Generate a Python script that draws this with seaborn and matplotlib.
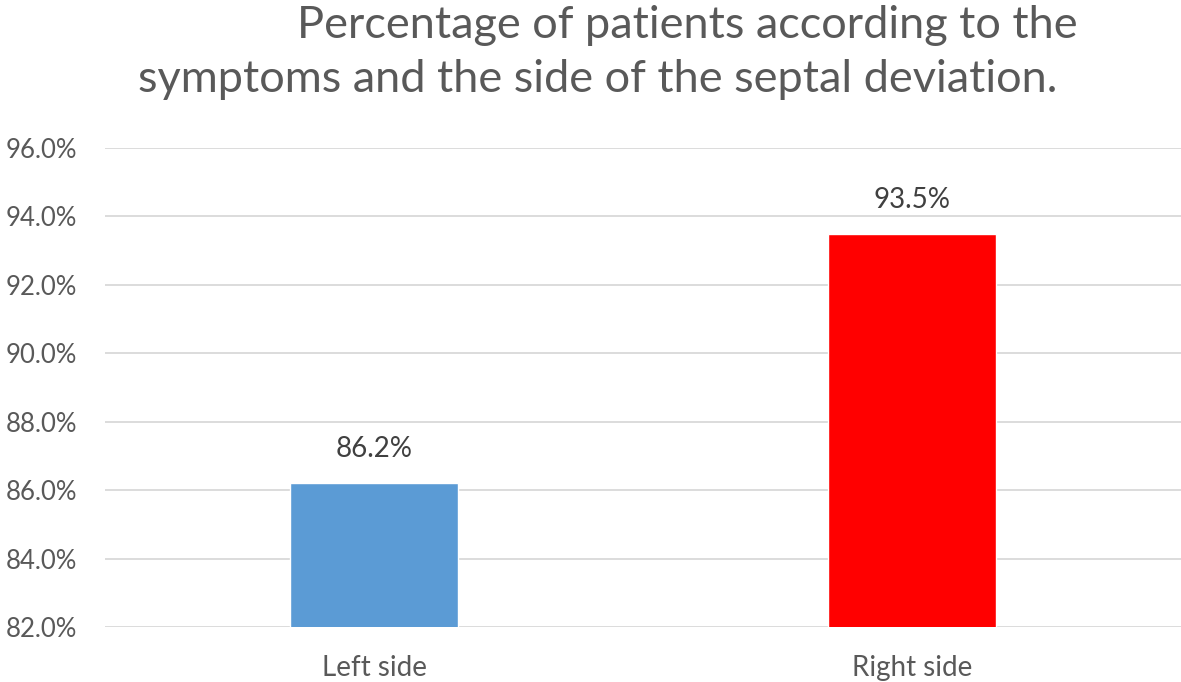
import pandas as pd
import seaborn as sb
from matplotlib import pyplot as plt
from matplotlib.ticker import FuncFormatter

sides = ["Left side", "Right side"]
percentages = [86.2, 93.5]
bar_colors = ["#5B9BD5", "#FF0000"]
yticks = [82, 84, 86, 88, 90, 92, 94, 96]

sb.set_style("white")
plt.rcParams["font.family"] = ["Lato", "DejaVu Sans"]

df = pd.DataFrame({"side": sides, "pct": percentages})

fig = plt.figure(figsize=(11.81, 6.82), dpi=100)
ax = fig.add_axes([105 / 1181, 1 - 627 / 682, 1076 / 1181, (627 - 148) / 682])

sb.barplot(data=df, x="side", y="pct", hue="side", palette=bar_colors,
           saturation=1, width=0.314, legend=False, ax=ax, zorder=3)

ax.set_ylim(82, 96)
ax.set_yticks(yticks)
ax.yaxis.set_major_formatter(FuncFormatter(lambda v, _: "%.1f%%" % v))
ax.grid(axis="y", color="#D9D9D9", linewidth=1.3, zorder=0)
ax.set_axisbelow(True)
for s in ax.spines.values():
    s.set_visible(False)
ax.set_xlabel("")
ax.set_ylabel("")
ax.tick_params(axis="both", length=0, labelsize=20, colors="#595959")
ax.tick_params(axis="y", labelsize=18.5, pad=20)
ax.tick_params(axis="x", pad=20)

# value labels on top of bars
for p, v in zip(ax.patches, percentages):
    ax.annotate("%.1f%%" % v, (p.get_x() + p.get_width() / 2, p.get_height()),
                ha="center", va="bottom", fontsize=20, color="#404040",
                xytext=(0, 15), textcoords="offset points")

fig.text(687 / 1181, 1 - 25 / 682, "Percentage of patients according to the",
         ha="center", va="center", fontsize=32.5, color="#595959")
fig.text(598 / 1181, 1 - 80 / 682, "symptoms and the side of the septal deviation.",
         ha="center", va="center", fontsize=32.5, color="#595959")

plt.savefig("out.png", dpi=100)
